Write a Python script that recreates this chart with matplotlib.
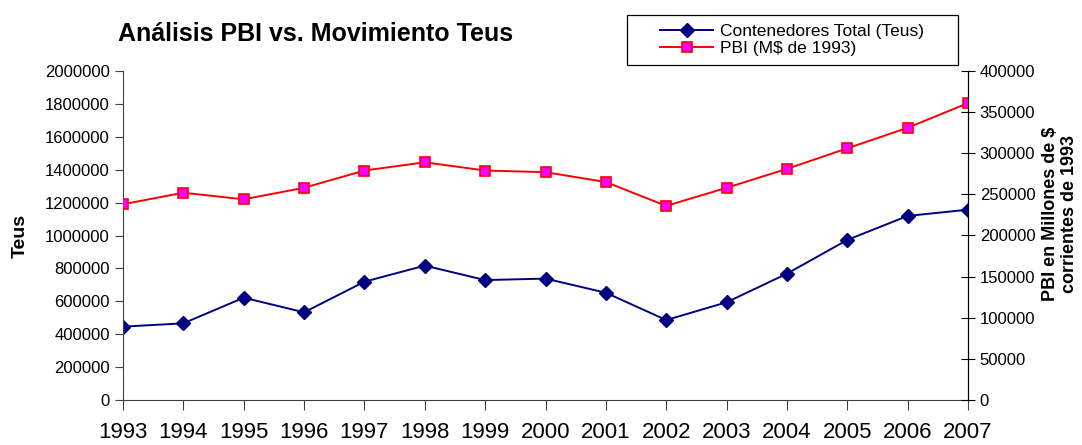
import matplotlib.pyplot as plt
from matplotlib.patches import Rectangle
from matplotlib.ticker import FuncFormatter
import numpy as np

plt.rcParams['font.family'] = ['Liberation Sans', 'DejaVu Sans']

years = [1993, 1994, 1995, 1996, 1997, 1998, 1999, 2000, 2001, 2002, 2003, 2004, 2005, 2006, 2007]
teus = [446000, 466000, 622000, 533000, 719000, 817000, 729000, 738000,
        652000, 486000, 594000, 768000, 973000, 1119000, 1157000]
pbi = [238000, 252000, 244000, 258000, 279000, 289000, 279000, 277000,
       265000, 236000, 258000, 281000, 306000, 331000, 361000]

W, H = 1082, 445
fig = plt.figure(figsize=(W / 100, H / 100), dpi=100)
ax = fig.add_axes([123 / W, 45 / H, (968 - 123) / W, 329 / H])
ax2 = ax.twinx()

x = np.arange(len(years))
l1, = ax.plot(x, teus, color='#000080', lw=1.4, marker='D', ms=7,
              mfc='#000080', mec='#000080', label='Contenedores Total (Teus)')
l2, = ax2.plot(x, pbi, color='#FF0000', lw=1.4, marker='s', ms=7,
               mfc='#FF00FF', mec='#FF0000', mew=1.2, label='PBI (M$ de 1993)')

ax.set_xlim(0, len(years) - 1)
ax.set_ylim(0, 2000000)
ax2.set_ylim(0, 400000)
ax.set_yticks(np.arange(0, 2000001, 200000))
ax2.set_yticks(np.arange(0, 400001, 50000))
plain = FuncFormatter(lambda v, p: '%d' % v)
ax.yaxis.set_major_formatter(plain)
ax2.yaxis.set_major_formatter(plain)
ax.set_xticks(x)
ax.set_xticklabels([str(y) for y in years], fontsize=16)
ax.tick_params(axis='x', direction='out', length=7, pad=9, color='#404040')
ax.tick_params(axis='y', direction='out', length=6, labelsize=12, color='#404040')
ax2.tick_params(axis='y', direction='inout', length=10, labelsize=12)

ax.spines['top'].set_visible(False)
ax2.spines['top'].set_visible(False)
ax.spines['left'].set_color('#404040')
ax.spines['bottom'].set_color('#404040')
ax2.spines['left'].set_visible(False)
ax2.spines['bottom'].set_visible(False)
ax2.spines['right'].set_color('black')

fig.text(20 / W, 1 - 236 / H, 'Teus', rotation=90, fontsize=14,
         fontweight='bold', ha='center', va='center')
fig.text(1060 / W, 1 - 214 / H, 'PBI en Millones de $\ncorrientes de 1993',
         rotation=90, fontsize=13, fontweight='bold', ha='center', va='center',
         linespacing=1.15)

fig.text(118 / W, 1 - 34 / H, 'Análisis PBI vs. Movimiento Teus',
         fontsize=18, fontweight='bold', va='center', ha='left')

fig.patches.append(Rectangle((627 / W, 1 - 65 / H), (958 - 627) / W, 50 / H,
                             transform=fig.transFigure, fill=False,
                             edgecolor='black', lw=0.9))
leg = fig.legend([l1, l2], [l1.get_label(), l2.get_label()],
                 loc='center', bbox_to_anchor=(792 / W, 1 - 40 / H),
                 fontsize=12.5, frameon=False, handlelength=3.0,
                 labelspacing=0.15, handletextpad=0.4, borderaxespad=0,
                 borderpad=0)

fig.savefig('out.png', dpi=100)
